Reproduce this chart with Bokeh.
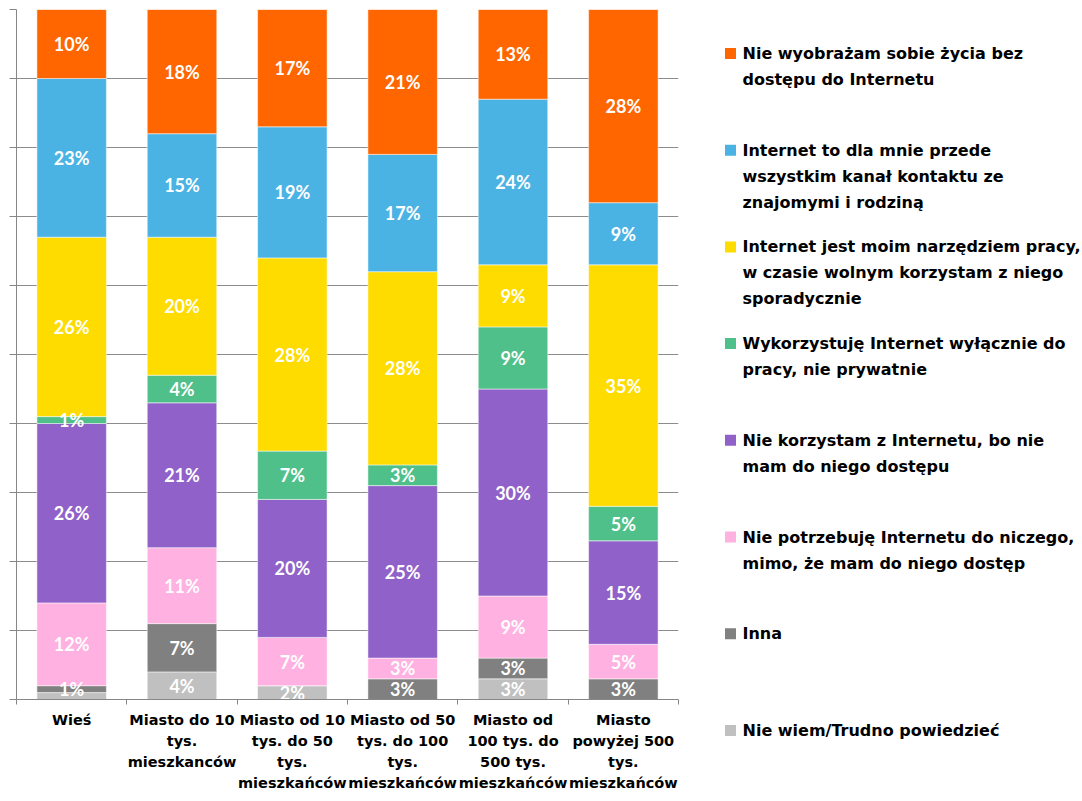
from bokeh.plotting import figure
from bokeh.models import FixedTicker, Range1d, ColumnDataSource
from bokeh.layouts import row
from bokeh.embed import file_html
from bokeh.resources import INLINE
from bokeh.core.properties import value

# ---- data ----
categories = [
    "Wieś",
    "Miasto do 10\ntys.\nmieszkanców",
    "Miasto od 10\ntys. do 50\ntys.\nmieszkańców",
    "Miasto od 50\ntys. do 100\ntys.\nmieszkańców",
    "Miasto od\n100 tys. do\n500 tys.\nmieszkańców",
    "Miasto\npowyżej 500\ntys.\nmieszkańców",
]

series_names = [
    "Nie wyobrażam sobie życia bez\ndostępu do Internetu",
    "Internet to dla mnie przede\nwszystkim kanał kontaktu ze\nznajomymi i rodziną",
    "Internet jest moim narzędziem pracy,\nw czasie wolnym korzystam z niego\nsporadycznie",
    "Wykorzystuję Internet wyłącznie do\npracy, nie prywatnie",
    "Nie korzystam z Internetu, bo nie\nmam do niego dostępu",
    "Nie potrzebuję Internetu do niczego,\nmimo, że mam do niego dostęp",
    "Inna",
    "Nie wiem/Trudno powiedzieć",
]
series_colors = ["#FF6600", "#4BB3E4", "#FFDC00", "#50C08A",
                 "#9062C9", "#FFB1E2", "#808080", "#C0C0C0"]

nie_wyobrazam = [10, 18, 17, 21, 13, 28]
kontakt = [23, 15, 19, 17, 24, 9]
narzedzie_pracy = [26, 20, 28, 28, 9, 35]
wylacznie_praca = [1, 4, 7, 3, 9, 5]
brak_dostepu = [26, 21, 20, 25, 30, 15]
nie_potrzebuje = [12, 11, 7, 3, 9, 5]
inna = [1, 7, 0, 3, 3, 3]
nie_wiem = [1, 4, 2, 0, 3, 0]

series_values = [nie_wyobrazam, kontakt, narzedzie_pracy, wylacznie_praca,
                 brak_dostepu, nie_potrzebuje, inna, nie_wiem]

y_ticks = [0, 10, 20, 30, 40, 50, 60, 70, 80, 90, 100]

TXT_FONT = "DejaVu Sans"
NUM_FONT = "Lato"
W1, H = 698, 801
W2 = 1080 - W1

n = len(categories)

# ---- chart ----
p = figure(width=W1, height=H, output_backend="svg", toolbar_location=None,
           x_range=Range1d(0, n), y_range=Range1d(0, 100),
           min_border_left=16, min_border_right=20, min_border_top=9,
           min_border_bottom=102)
p.outline_line_color = None
p.xgrid.grid_line_color = None

xs = [i + 0.5 for i in range(n)]
bottoms = [0.0] * n
stack = []
for name, color, vals in reversed(list(zip(series_names, series_colors, series_values))):
    tops = [b + v for b, v in zip(bottoms, vals)]
    src = ColumnDataSource(dict(x=xs, bottom=bottoms, top=tops))
    p.vbar(x="x", width=0.63, bottom="bottom", top="top", source=src,
           fill_color=color, line_color="white", line_alpha=0.5, line_width=1)
    stack.append((vals, bottoms, tops))
    bottoms = tops

# value labels, top-down, skipping ones that would collide
lx, ly, lt = [], [], []
for i in range(n):
    last = None
    for vals, bots, tops in reversed(stack):
        v = vals[i]
        if v <= 0:
            continue
        c = (bots[i] + tops[i]) / 2
        if last is not None and abs(last - c) < 1.3:
            continue
        lx.append(xs[i]); ly.append(c); lt.append(f"{v}%")
        last = c
p.text(x=lx, y=ly, text=lt, text_align="center", text_baseline="middle",
       text_color="white", text_font=value(NUM_FONT), text_font_style="bold",
       text_font_size="18px")

# x axis: labels at centres, tick marks at category boundaries
p.xaxis.ticker = FixedTicker(ticks=xs, minor_ticks=list(range(n + 1)))
p.xaxis.major_label_overrides = {x: c for x, c in zip(xs, categories)}
p.xaxis.major_tick_out = 0
p.xaxis.major_tick_in = 0
p.xaxis.minor_tick_out = 5
p.xaxis.minor_tick_in = 0
p.xaxis.minor_tick_line_color = "#868686"
p.xaxis.axis_line_color = "#868686"
p.xaxis.major_label_standoff = 7
p.xaxis.major_label_text_font = TXT_FONT
p.xaxis.major_label_text_font_style = "bold"
p.xaxis.major_label_text_font_size = "14.5px"
p.xaxis.major_label_text_color = "black"
p.xaxis.major_label_text_line_height = 1.33

# y axis: ticks only
p.yaxis.ticker = FixedTicker(ticks=y_ticks)
p.yaxis.major_label_overrides = {t: "" for t in y_ticks}
p.yaxis.major_label_standoff = 0
p.yaxis.major_tick_out = 7
p.yaxis.major_tick_in = 0
p.yaxis.minor_tick_out = 0
p.yaxis.minor_tick_in = 0
p.yaxis.axis_line_color = "#868686"
p.yaxis.major_tick_line_color = "#868686"
p.ygrid.grid_line_color = "#8C8C8C"
p.ygrid.grid_line_width = 1

# ---- legend panel (own frame, pixel coordinates) ----
lg = figure(frame_width=W2, frame_height=H - 9, output_backend="svg",
            toolbar_location=None, x_axis_type=None, y_axis_type=None,
            x_range=Range1d(0, W2), y_range=Range1d(H - 9, 0), min_border=0)
lg.grid.visible = False
lg.outline_line_color = None

first_y = 44
step = 96.7
line_h = 26
sq_x, sq_y, sq_c = [], [], []
tx, ty, tt = [], [], []
for k, (name, color) in enumerate(zip(series_names, series_colors)):
    y0 = first_y + k * step
    sq_x.append(32); sq_y.append(y0); sq_c.append(color)
    for j, line in enumerate(name.split("\n")):
        tx.append(44); ty.append(y0 + j * line_h); tt.append(line)
lg.scatter(x=sq_x, y=sq_y, marker="square", size=11, fill_color=sq_c,
           line_color=None)
lg.text(x=tx, y=ty, text=tt, text_align="left", text_baseline="middle",
        text_color="black", text_font=value(TXT_FONT), text_font_style="bold",
        text_font_size="16px")

layout = row(p, lg)
open("out.html", "w").write(file_html(layout, INLINE))
